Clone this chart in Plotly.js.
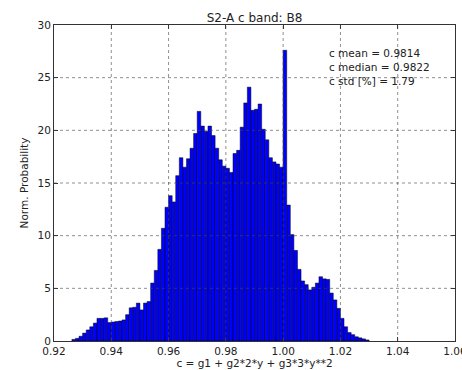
<!DOCTYPE html>
<html>
<head>
<meta charset="utf-8">
<script src="https://cdn.plot.ly/plotly-3.0.1.min.js"></script>
<style>html,body{margin:0;padding:0;background:#fff;}#chart{width:462px;height:370px;}</style>
</head>
<body>
<div id="chart"></div>
<script>
// Histogram bins (left edge of first bin and bin width)
const binStart = 0.92625;
const binWidth = 0.00125;
// Normalised probability per bin
const heights = [
  0.15, 0.25, 0.45, 0.75, 1.05, 1.35, 1.7, 2.15, 2.15, 2.2,
  1.75, 1.8, 1.85, 1.9, 2.0, 2.5, 3.15, 3.2, 3.6, 2.95,
  3.6, 3.75, 5.5, 6.7, 8.7, 10.7, 12.7, 13.8, 13.2, 15.7,
  17.4, 16.5, 17.3, 18.3, 19.7, 21.8, 20.4, 19.9, 20.4, 19.5,
  18.3, 17.2, 16.6, 16.4, 16.0, 17.8, 18.1, 20.3, 22.6, 24.1,
  21.9, 22.0, 22.5, 20.1, 19.1, 17.4, 17.0, 16.8, 16.5, 27.6,
  12.9, 10.1, 8.6, 6.8, 5.7, 5.35, 4.85, 5.1, 5.5, 6.1,
  5.9, 5.85, 4.55, 3.9, 3.1, 2.15, 1.35, 0.8, 0.6, 0.4,
  0.3, 0.2, 0.1
];
const xTicks = [0.92, 0.94, 0.96, 0.98, 1.00, 1.02, 1.04, 1.06];
const yTicks = [0, 5, 10, 15, 20, 25, 30];
const statLines = ["c mean = 0.9814", "c median = 0.9822", "c std [%] = 1.79"];

const centers = heights.map((h, i) => binStart + (i + 0.5) * binWidth);

const font = "DejaVu Sans, sans-serif";
const gridShapes = [];
xTicks.slice(1, -1).forEach(v => gridShapes.push({
  type: 'line', xref: 'x', yref: 'paper', x0: v, x1: v, y0: 0, y1: 1,
  layer: 'above', line: {color: '#444', width: 0.6, dash: 'dot'}
}));
yTicks.slice(1, -1).forEach(v => gridShapes.push({
  type: 'line', xref: 'paper', yref: 'y', x0: 0, x1: 1, y0: v, y1: v,
  layer: 'above', line: {color: '#444', width: 0.6, dash: 'dot'}
}));

const statY = [0.910, 0.868, 0.824];
const annotations = statLines.map((t, i) => ({
  text: t, xref: 'paper', yref: 'paper', x: 0.680, y: statY[i],
  xanchor: 'left', yanchor: 'middle', showarrow: false,
  font: {family: font, size: 10.5, color: '#222'}
}));

const data = [{
  type: 'bar', x: centers, y: heights, width: binWidth,
  marker: {color: '#0000ff', line: {color: '#000', width: 0.5}},
  hoverinfo: 'skip'
}];

const axisCommon = {
  showgrid: false, zeroline: false, showline: true, linecolor: '#333', linewidth: 1,
  mirror: 'ticks', ticks: 'inside', ticklen: 4, tickcolor: '#333', tickwidth: 1,
  tickfont: {family: font, size: 10.5, color: '#222'}, layer: 'above traces'
};

const layout = {
  width: 462, height: 370,
  margin: {l: 54, r: 7, t: 25, b: 29},
  paper_bgcolor: '#fff', plot_bgcolor: '#fff',
  showlegend: false, bargap: 0,
  title: {text: 'S2-A c band: B8', font: {family: font, size: 12, color: '#222'},
          x: 0.5, xref: 'paper', xanchor: 'center', y: 0.953, yanchor: 'middle'},
  xaxis: Object.assign({}, axisCommon, {
    range: [0.92, 1.06], tickvals: xTicks, tickformat: '.2f', ticklabeloverflow: 'allow',
    title: {text: 'c = g1 + g2*2*y + g3*3*y**2', font: {family: font, size: 10.5, color: '#222'}, standoff: 2}
  }),
  yaxis: Object.assign({}, axisCommon, {
    range: [0, 30], tickvals: yTicks,
    title: {text: 'Norm. Probability', font: {family: font, size: 10.5, color: '#222'}, standoff: 6}
  }),
  shapes: gridShapes,
  annotations: annotations
};

Plotly.newPlot('chart', data, layout, {staticPlot: true, displayModeBar: false});
</script>
</body>
</html>
